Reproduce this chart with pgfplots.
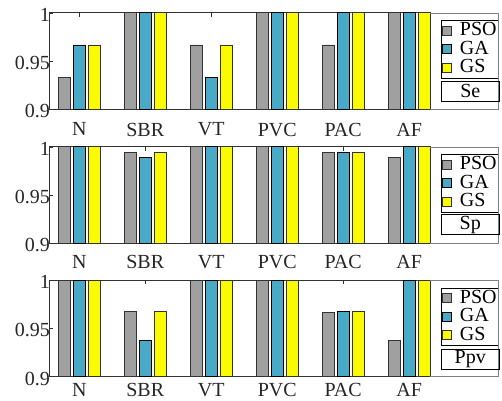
\documentclass[border=0pt]{standalone}
\usepackage{fontspec}
\setmainfont{Liberation Serif}
\usepackage{pgfplots}
\usepackage{pgfplotstable}
\pgfplotsset{compat=1.18}
\definecolor{psogray}{RGB}{160,160,160}
\definecolor{gablue}{RGB}{72,170,198}
\definecolor{gsyellow}{RGB}{250,250,0}
\definecolor{axgray}{RGB}{50,50,50}

\pgfplotstableread{
x pso ga gs
0 0.9333 0.9667 0.9667
1 1.0000 1.0000 1.0000
2 0.9667 0.9333 0.9667
3 1.0000 1.0000 1.0000
4 0.9667 1.0000 1.0000
5 1.0000 1.0000 1.0000
}\seTable

\pgfplotstableread{
x pso ga gs
0 1.0000 1.0000 1.0000
1 0.9944 0.9889 0.9944
2 1.0000 1.0000 1.0000
3 1.0000 1.0000 1.0000
4 0.9944 0.9944 0.9944
5 0.9889 1.0000 1.0000
}\spTable

\pgfplotstableread{
x pso ga gs
0 1.0000 1.0000 1.0000
1 0.9672 0.9375 0.9672
2 1.0000 1.0000 1.0000
3 1.0000 1.0000 1.0000
4 0.9667 0.9677 0.9677
5 0.9375 1.0000 1.0000
}\ppvTable

\newcommand{\bigfont}{\fontsize{20}{20}\selectfont}

\pgfplotsset{
 panel/.style={
  width=381pt, height=96.5pt, scale only axis,
  xmin=-0.459, xmax=5.315, ymin=0.9, ymax=1,
  ybar=2.7pt, bar width=12pt,
  xtick={0,...,5}, xticklabels={\textrm{N},\textrm{SBR},\textrm{VT},\textrm{PVC},\textrm{PAC},\textrm{AF}},
  ytick={0.9,0.95,1}, yticklabels={\textrm{0.9},\textrm{0.95},\textrm{1}},
  tick align=inside, major tick length=4pt,
  axis line style={axgray, line width=0.7pt},
  tick style={axgray, line width=0.5pt},
  tick label style={font=\bigfont, inner sep=0pt, text=black!85},
  yticklabel style={xshift=1pt, yshift=-2pt},
  legend style={at={(1,1)}, anchor=north west, xshift=11pt, yshift=-7.4pt,
    draw=black, line width=0.5pt, font=\bigfont, inner sep=1pt,
    nodes={inner sep=1pt, text height=13.5pt, text depth=3pt}},
  legend image code/.code={\draw[#1, line width=0.6pt] (0pt,-4.5pt) rectangle (9pt,4.5pt); \path (16pt,0pt);},
  legend cell align=left,
 },
 pso/.style={fill=psogray, draw=black!80, line width=0.8pt},
 ga/.style={fill=gablue, draw=black, line width=0.8pt},
 gs/.style={fill=gsyellow, draw=black!80, line width=0.8pt},
}
\tikzset{
 tagbox/.style={draw=black, line width=0.5pt, anchor=north west, minimum width=58pt, minimum height=20pt, inner sep=0pt, font=\bigfont},
}

\begin{document}
\begin{tikzpicture}
\useasboundingbox (0,0) rectangle (502pt,400pt);

\begin{axis}[panel, name=ax1, at={(49pt,290.7pt)}, anchor=south west, xticklabel style={yshift=-13.4pt}]
\addplot[pso] table[x=x,y=pso]{\seTable};
\addplot[ga] table[x=x,y=ga]{\seTable};
\addplot[gs] table[x=x,y=gs]{\seTable};
\legend{PSO,GA,GS}
\end{axis}
\draw[gray, line width=0.5pt] (ax1.north east) -- ++(68pt,0) -- ++(0,-96.5pt) -- ++(-68pt,0);
\node[tagbox] at ([xshift=11pt, yshift=-68.4pt]ax1.north east) {Se};

\begin{axis}[panel, name=ax2, at={(49pt,156.7pt)}, anchor=south west, xticklabel style={yshift=-11.7pt}]
\addplot[pso] table[x=x,y=pso]{\spTable};
\addplot[ga] table[x=x,y=ga]{\spTable};
\addplot[gs] table[x=x,y=gs]{\spTable};
\legend{PSO,GA,GS}
\end{axis}
\draw[gray, line width=0.5pt] (ax2.north east) -- ++(68pt,0) -- ++(0,-96.5pt) -- ++(-68pt,0);
\node[tagbox] at ([xshift=11pt, yshift=-67.6pt]ax2.north east) {Sp};

\begin{axis}[panel, name=ax3, at={(49pt,23.3pt)}, anchor=south west, xticklabel style={yshift=-6.5pt}]
\addplot[pso] table[x=x,y=pso]{\ppvTable};
\addplot[ga] table[x=x,y=ga]{\ppvTable};
\addplot[gs] table[x=x,y=gs]{\ppvTable};
\legend{PSO,GA,GS}
\end{axis}
\draw[gray, line width=0.5pt] (ax3.north east) -- ++(68pt,0) -- ++(0,-96.5pt) -- ++(-68pt,0);
\node[tagbox] at ([xshift=11pt, yshift=-68.3pt]ax3.north east) {Ppv};

\end{tikzpicture}
\end{document}
